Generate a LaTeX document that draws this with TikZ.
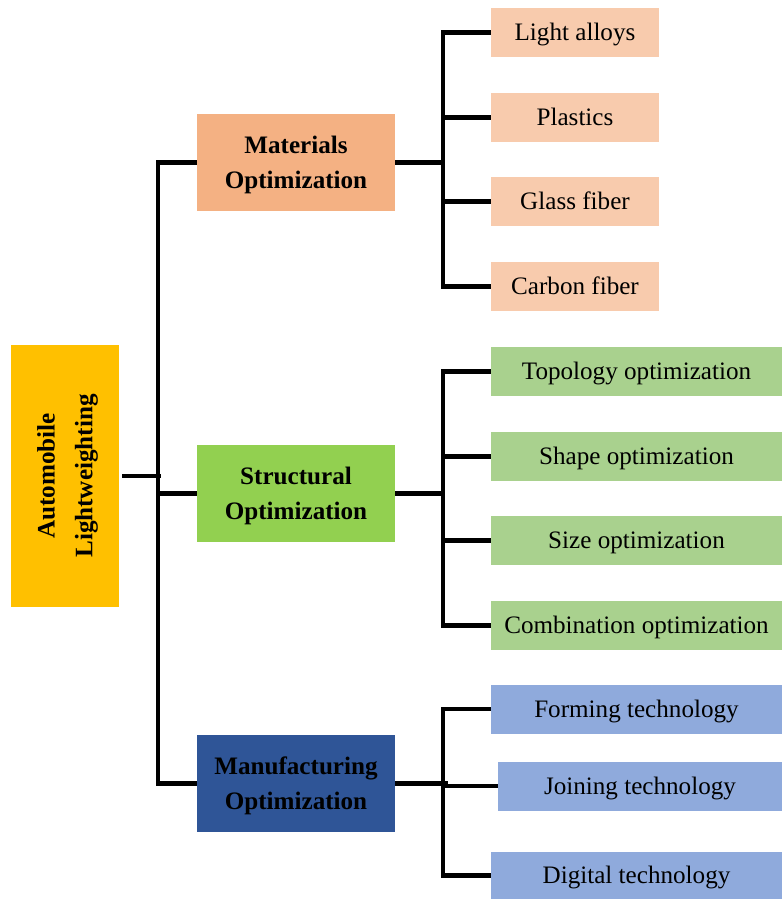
\documentclass[tikz,border=0pt]{standalone}
\usepackage{fontspec}
\setmainfont{Liberation Serif}
\usetikzlibrary{positioning, calc}
\definecolor{rootc}{HTML}{FFC000}
\definecolor{matc}{HTML}{F4B183}
\definecolor{matl}{HTML}{F8CBAD}
\definecolor{strc}{HTML}{92D050}
\definecolor{strl}{HTML}{A9D18E}
\definecolor{manc}{HTML}{2F5597}
\definecolor{manl}{HTML}{8FAADC}
\tikzset{
    box/.style={inner sep=0pt, align=center, font=\fontsize{14.3}{19.5}\selectfont},
    mid/.style={box, minimum width=3.96cm, minimum height=1.94cm, text depth=0.3pt,
                font=\fontsize{14.3}{19.9}\selectfont\bfseries},
    leaf/.style={box, minimum height=0.98cm, text height=12.9pt, text depth=3.4pt},
    link/.style={line width=2.5pt}
}

\begin{document}
\begin{tikzpicture}[x=0.02cm, y=-0.02cm]
    \useasboundingbox (0,0) rectangle (782,899);

    % root
    \node[box, fill=rootc, rotate=90, minimum width=5.24cm, minimum height=2.16cm, text depth=0.3pt,
          font=\fontsize{14.3}{21.5}\selectfont\bfseries] (root) at (65,476) {Automobile\\Lightweighting};

    % second level
    \node[mid, fill=matc] (mat) at (296,162.5) {Materials\\Optimization};
    \node[mid, fill=strc] (str) at (296,493.5) {Structural\\Optimization};
    \node[mid, fill=manc] (man) at (296,783.5) {Manufacturing\\Optimization};

    % materials leaves
    \foreach \y/\name/\txt in {32.5/la/Light alloys, 117.5/pl/Plastics, 201.5/gf/Glass fiber, 286.5/cf/Carbon fiber}
        \node[leaf, fill=matl, minimum width=3.36cm] (\name) at (575,\y) {\txt};

    % structural leaves
    \foreach \y/\name/\txt in {371.5/to/Topology optimization, 456.5/so/Shape optimization, 540.5/sz/Size optimization, 625.5/co/Combination optimization}
        \node[leaf, fill=strl, minimum width=5.82cm] (\name) at (636.5,\y) {\txt};

    % manufacturing leaves
    \node[leaf, fill=manl, minimum width=5.82cm] (ft) at (636.5,709) {Forming technology};
    \node[leaf, fill=manl, minimum width=5.68cm] (jt) at (640,786) {Joining technology};
    \node[leaf, fill=manl, minimum width=5.82cm, minimum height=0.94cm] (dt) at (636.5,875.5) {Digital technology};

    % joints
    \coordinate (rj) at (158,476);
    \coordinate (mj) at (443,162.5);
    \coordinate (sj) at (443,493.5);
    \coordinate (fj) at (448,783.5);
    \coordinate (fv) at (443,783.5);

    % connectors
    \draw[link] ($(root.south)+(3,0)$) -- ($(rj)+(3,0)$);
    \draw[link] (mat.west) -| (rj) |- (man.west);
    \draw[link] (str.west) -- (str.west -| rj);

    \draw[link] (mat.east) -- (mj);
    \draw[link] (la.west) -| (mj) |- (cf.west);
    \foreach \n in {pl, gf}
        \draw[link] (\n.west) -- (\n.west -| mj);

    \draw[link] (str.east) -- (sj);
    \draw[link] (to.west) -| (sj) |- (co.west);
    \foreach \n in {so, sz}
        \draw[link] (\n.west) -- (\n.west -| sj);

    \draw[link] (man.east) -- (fj);
    \draw[link] (ft.west) -| (fv) |- (dt.west);
    \draw[link] (jt.west) -- (jt.west -| fv);
\end{tikzpicture}
\end{document}
